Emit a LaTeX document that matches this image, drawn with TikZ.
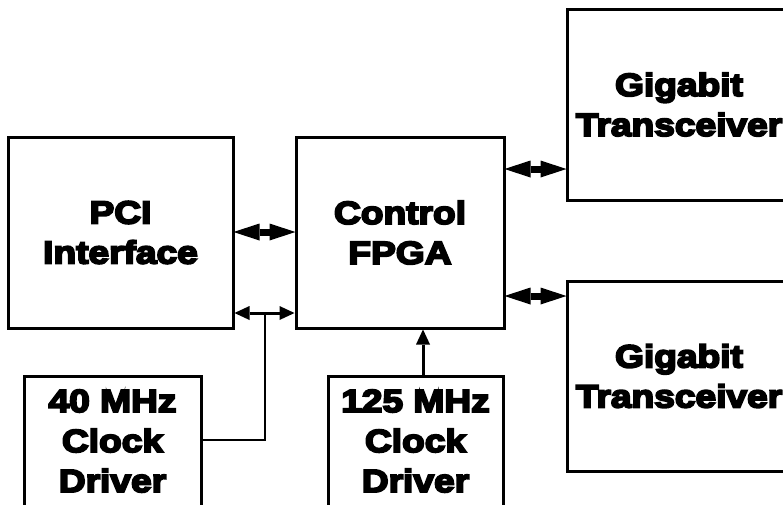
\documentclass[tikz,border=0pt]{standalone}
\usepackage{fontspec}
\newfontfamily\lblfont{Liberation Sans}[FakeBold=6,FakeStretch=1.16]
\usetikzlibrary{arrows.meta}
\tikzset{
  blk/.style={draw=black,line width=3pt,fill=white,inner sep=0pt,align=center,
    font=\lblfont\bfseries\fontsize{32}{40}\selectfont},
  bigarrow/.style={line width=7pt,{Triangle[length=26pt,width=17pt,line width=0pt]}-{Triangle[length=26pt,width=17pt,line width=0pt]},shorten <=-1pt,shorten >=-1pt},
  smallarrow/.style={line width=3pt,{Triangle[length=15pt,width=14pt,line width=0pt]}-{Triangle[length=15pt,width=14pt,line width=0pt]}},
  uparrow/.style={line width=3pt,-{Triangle[length=15pt,width=14pt,line width=0pt]}},
  wire/.style={line width=2.5pt}
}
\begin{document}
\begin{tikzpicture}[x=1pt,y=-1pt]
\useasboundingbox (0,0) rectangle (783,504);
\begin{scope}
\clip (0,0) rectangle (783,504);
\node[blk,minimum width=225pt,minimum height=191pt] (pci) at (120.5,232.5) {PCI\\Interface};
\node[blk,minimum width=208pt,minimum height=191pt] (fpga) at (400,232.5) {Control\\FPGA};
\node[blk,minimum width=224pt,minimum height=191pt] (gt1) at (679,104.5) {Gigabit\\Transceiver};
\node[blk,minimum width=224pt,minimum height=190pt] (gt2) at (679,376) {Gigabit\\Transceiver};
\node[blk,minimum width=177pt,minimum height=130pt] (c40) at (112.5,441) {40 MHz\\Clock\\Driver};
\node[blk,minimum width=175pt,minimum height=130pt] (c125) at (415.5,441) {125 MHz\\Clock\\Driver};

\coordinate (a1) at (0,232);
\coordinate (a2) at (0,313);
\coordinate (a3) at (0,169);
\coordinate (a4) at (0,296);
\coordinate (a5) at (423,0);
\coordinate (j) at (265,313);
\coordinate (k) at (265,440);

\draw[bigarrow] (pci.east |- a1) -- (fpga.west |- a1);
\draw[smallarrow] (pci.east |- a2) -- (fpga.west |- a2);
\draw[bigarrow] (fpga.east |- a3) -- (gt1.west |- a3);
\draw[bigarrow] (fpga.east |- a4) -- (gt2.west |- a4);
\draw[uparrow] (c125.north -| a5) -- (fpga.south -| a5);
\draw[wire] (c40.east |- k) -- (k) -- (j);
\end{scope}
\end{tikzpicture}
\end{document}
